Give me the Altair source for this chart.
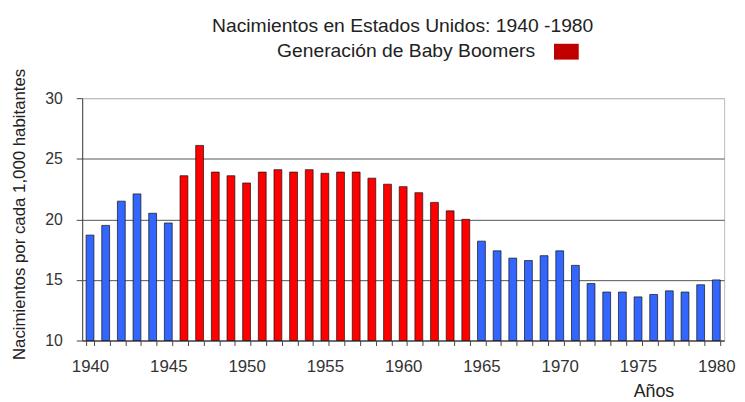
import altair as alt
import pandas as pd

years = list(range(1940, 1981))
rates = [18.7, 19.5, 21.5, 22.1, 20.5, 19.7, 23.6, 26.1, 23.9, 23.6,
         23.0, 23.9, 24.1, 23.9, 24.1, 23.8, 23.9, 23.9, 23.4, 22.9,
         22.7, 22.2, 21.4, 20.7, 20.0, 18.2, 17.4, 16.8, 16.6, 17.0,
         17.4, 16.2, 14.7, 14.0, 14.0, 13.6, 13.8, 14.1, 14.0, 14.6, 15.0]
boomer_start, boomer_end = 1946, 1964
groups = ["Baby Boomers" if boomer_start <= y <= boomer_end else "Otros" for y in years]

title_text = "Nacimientos en Estados Unidos: 1940 -1980"
legend_text = "Generación de Baby Boomers"
y_title = "Nacimientos por cada 1,000 habitantes"
x_title = "Años"
y_ticks = [10, 15, 20, 25, 30]
y_min, y_max = 10, 30

FONT = "Liberation Sans"

df = pd.DataFrame({"year": years, "rate": rates, "grupo": groups})

bars = alt.Chart(df).mark_bar(stroke="#111111", strokeWidth=0.7).encode(
    x=alt.X("year:O",
            scale=alt.Scale(paddingInner=0.5, paddingOuter=0.25),
            axis=alt.Axis(title=None, labelAngle=0,
                          labelExpr="datum.value % 5 == 0 ? datum.label : ''",
                          tickBand="extent", tickSize=5, tickColor="#444444",
                          domainColor="#444444", labelFont=FONT, labelFontSize=17,
                          labelColor="#333333", labelPadding=13, labelBaseline="top",
                          labelOverlap=False, labelBound=False)),
    y=alt.Y("rate:Q",
            scale=alt.Scale(domain=[y_min, y_max], nice=False, zero=False),
            axis=alt.Axis(values=y_ticks, title=y_title, titleFont=FONT,
                          titleFontSize=17, titleFontWeight="normal", titleColor="#222222",
                          titleAngle=270, titleX=-58, titleY=117, titleAlign="center",
                          titleBaseline="alphabetic",
                          labelFont=FONT, labelFontSize=16, labelColor="#333333",
                          labelPadding=14, tickSize=6, tickColor="#444444",
                          domainColor="#444444", grid=True,
                          gridColor={"condition": {"test": "datum.value === 30", "value": "#bbbbbb"},
                                     "value": "#555555"})),
    y2=alt.datum(y_min),
    color=alt.Color("grupo:N",
                    scale=alt.Scale(domain=["Baby Boomers", "Otros"],
                                    range=["#ff0000", "#3366ff"]),
                    legend=None),
)

title_layer = alt.Chart(pd.DataFrame({"t": [title_text]})).mark_text(
    font=FONT, fontSize=19.5, color="#222222", align="center", baseline="alphabetic"
).encode(text="t:N", x=alt.value(324), y=alt.value(-67))

legend_layer = alt.Chart(pd.DataFrame({"t": [legend_text]})).mark_text(
    font=FONT, fontSize=19.5, color="#222222", align="left", baseline="alphabetic"
).encode(text="t:N", x=alt.value(197), y=alt.value(-42))

swatch = alt.Chart(pd.DataFrame({"t": [legend_text]})).mark_rect(color="#c00000").encode(
    x=alt.value(477), x2=alt.value(502), y=alt.value(-55), y2=alt.value(-39))

xtitle_layer = alt.Chart(pd.DataFrame({"t": [x_title]})).mark_text(
    font=FONT, fontSize=18, color="#222222", align="center", baseline="alphabetic"
).encode(text="t:N", x=alt.value(578), y=alt.value(302))

chart = alt.layer(bars, title_layer, legend_layer, swatch, xtitle_layer).properties(
    width=649, height=245,
    autosize="none",
    padding={"left": 75, "top": 89, "right": 13, "bottom": 60},
).configure_view(stroke="#bbbbbb")

chart.save("out.html", embed_options={"renderer": "svg", "actions": False})
